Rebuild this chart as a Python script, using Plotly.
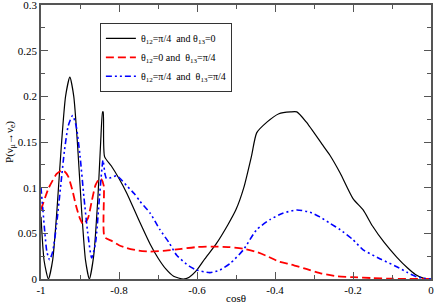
import plotly.graph_objects as go

# Black: theta12=pi/4, theta13=0
x_black = [-1.0, -0.992, -0.981, -0.97, -0.959, -0.948, -0.937, -0.926, -0.916, -0.906, -0.896,
           -0.886, -0.876, -0.865, -0.854, -0.847, -0.842, -0.8405, -0.837, -0.82, -0.8, -0.78,
           -0.76, -0.74, -0.72, -0.70, -0.68, -0.66, -0.635, -0.62, -0.60, -0.58, -0.55, -0.52,
           -0.50, -0.48, -0.46, -0.447, -0.42, -0.39, -0.36, -0.344, -0.32, -0.28, -0.26, -0.233,
           -0.2, -0.174, -0.15, -0.12, -0.088, -0.06, -0.04, -0.02, 0.0]
y_black = [0.068, 0.02, 0.0, 0.021, 0.076, 0.145, 0.2, 0.221, 0.2, 0.145, 0.076,
           0.021, 0.0, 0.025, 0.09, 0.15, 0.183, 0.183, 0.134, 0.124, 0.11, 0.094,
           0.075, 0.056, 0.038, 0.023, 0.011, 0.003, 0.0, 0.002, 0.01, 0.022, 0.039, 0.06,
           0.076, 0.1, 0.135, 0.16, 0.172, 0.181, 0.183, 0.183, 0.172, 0.148, 0.136, 0.116,
           0.088, 0.0756, 0.058, 0.04, 0.024, 0.012, 0.005, 0.001, 0.0]

# Red: theta12=0, theta13=pi/4
x_red = [-1.0, -0.981, -0.97, -0.96, -0.947, -0.94, -0.93, -0.92, -0.91, -0.90, -0.892, -0.88,
         -0.87, -0.86, -0.85, -0.845, -0.839, -0.837, -0.82, -0.80, -0.78, -0.75, -0.72, -0.68,
         -0.64, -0.60, -0.56, -0.52, -0.48, -0.45, -0.42, -0.39, -0.36, -0.32, -0.28, -0.24,
         -0.2, -0.15, -0.1, 0.0]
y_red = [0.076, 0.099, 0.108, 0.115, 0.119, 0.118, 0.112, 0.098, 0.08, 0.066, 0.06, 0.066,
         0.085, 0.103, 0.11, 0.109, 0.102, 0.046, 0.042, 0.037, 0.034, 0.031, 0.030, 0.031,
         0.033, 0.035, 0.0355, 0.035, 0.033, 0.030, 0.025, 0.019, 0.016, 0.011, 0.006, 0.003,
         0.002, 0.001, 0.0003, 0.0]

# Blue: theta12=pi/4, theta13=pi/4
x_blue = [-1.0, -0.995, -0.99, -0.985, -0.978, -0.97, -0.96, -0.95, -0.94, -0.93, -0.919, -0.91,
          -0.90, -0.89, -0.88, -0.87, -0.86, -0.85, -0.841, -0.836, -0.832, -0.82, -0.806, -0.797,
          -0.78, -0.76, -0.746, -0.72, -0.695, -0.672, -0.652, -0.62, -0.601, -0.567, -0.541,
          -0.515, -0.481, -0.447, -0.413, -0.38, -0.344, -0.31, -0.285, -0.259, -0.233, -0.2,
          -0.174, -0.13, -0.088, -0.06, -0.037, -0.015, 0.0]
y_blue = [0.10, 0.075, 0.05, 0.03, 0.021, 0.03, 0.06, 0.10, 0.14, 0.168, 0.179, 0.168,
          0.135, 0.09, 0.05, 0.023, 0.04, 0.09, 0.13, 0.115, 0.110, 0.111, 0.113, 0.11,
          0.102, 0.093, 0.085, 0.072, 0.054, 0.04, 0.026, 0.014, 0.0099, 0.007, 0.0099,
          0.017, 0.032, 0.054, 0.065, 0.072, 0.0756, 0.073, 0.068, 0.061, 0.054, 0.043,
          0.032, 0.022, 0.0135, 0.007, 0.0025, 0.0005, 0.0]

x_ticks = [-1, -0.8, -0.6, -0.4, -0.2, 0]
x_tick_labels = ["-1", "-0.8", "-0.6", "-0.4", "-0.2", "0"]
y_ticks = [0, 0.05, 0.1, 0.15, 0.2, 0.25, 0.3]
y_tick_labels = ["0", "0.05", "0.1", "0.15", "0.2", "0.25", "0.3"]

names = ["θ<sub>12</sub>=π/4  and θ<sub>13</sub>=0",
         "θ<sub>12</sub>=0 and  θ<sub>13</sub>=π/4",
         "θ<sub>12</sub>=π/4  and  θ<sub>13</sub>=π/4"]

FONT = "Liberation Serif"
fig = go.Figure()
fig.add_trace(go.Scatter(x=x_black, y=y_black, mode="lines", name=names[0],
                         line=dict(color="black", width=1.2, shape="spline", smoothing=0.6)))
fig.add_trace(go.Scatter(x=x_red, y=y_red, mode="lines", name=names[1],
                         line=dict(color="#ff0000", width=1.8, dash="8px,4px",
                                   shape="spline", smoothing=0.6)))
fig.add_trace(go.Scatter(x=x_blue, y=y_blue, mode="lines", name=names[2],
                         line=dict(color="#0000ff", width=1.6, dash="6px,3px,2px,3px,2px,3px",
                                   shape="spline", smoothing=0.6)))

axis_common = dict(showgrid=False, zeroline=False, showline=True, linecolor="#555555",
                   linewidth=1.5, mirror="ticks", ticks="inside", tickcolor="#555555",
                   ticklen=7, tickwidth=1, automargin=False, ticklabeloverflow="allow",
                   tickfont=dict(family=FONT, size=11, color="black"))

fig.update_xaxes(range=[-1, 0], tickvals=x_ticks, ticktext=x_tick_labels,
                 minor=dict(dtick=0.1, ticks="inside", ticklen=4, tickcolor="#555555"),
                 title=dict(text="cosθ", font=dict(family=FONT, size=11, color="black"),
                            standoff=0),
                 **axis_common)
fig.update_yaxes(range=[0, 0.3], tickvals=y_ticks, ticktext=y_tick_labels,
                 minor=dict(dtick=0.025, ticks="inside", ticklen=4, tickcolor="#555555"),
                 title=dict(text="P(ν<sub>μ</sub>→ν<sub>e</sub>)",
                            font=dict(family=FONT, size=11, color="black"), standoff=2),
                 **axis_common)

fig.update_layout(
    width=436, height=304,
    margin=dict(l=41, r=5, t=5, b=25),
    paper_bgcolor="white", plot_bgcolor="white",
    showlegend=True,
    legend=dict(x=0.151, y=0.935, xanchor="left", yanchor="top",
                bgcolor="white", bordercolor="#333333", borderwidth=1,
                font=dict(family=FONT, size=10, color="black"),
                tracegroupgap=0, itemwidth=30),
)

fig.write_html("out.html", config={"displayModeBar": False},
               post_script="document.body.style.margin='0';document.body.style.overflow='hidden';")
